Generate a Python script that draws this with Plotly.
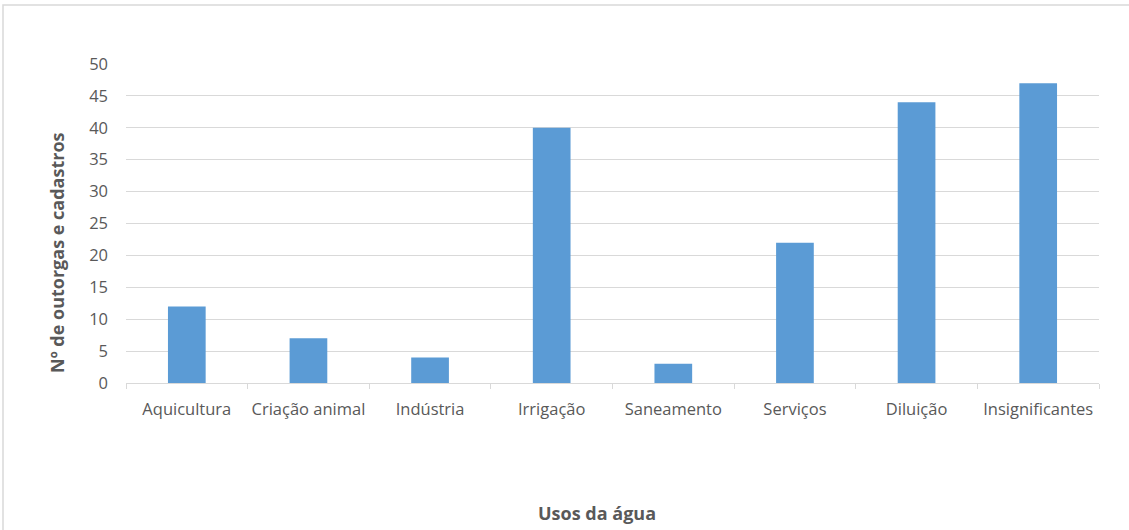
import plotly.graph_objects as go

# Water-use categories and the count of permits/registrations for each
categorias = ["Aquicultura", "Criação animal", "Indústria", "Irrigação",
              "Saneamento", "Serviços", "Diluição", "Insignificantes"]
quantidades = [12, 7, 4, 40, 3, 22, 44, 47]
y_ticks = [0, 5, 10, 15, 20, 25, 30, 35, 40, 45, 50]

W, H = 1129, 530
L, R, T, B = 126, 30, 64, 147
pw, ph = W - L - R, H - T - B

FONT = "'Open Sans', Lato, sans-serif"
GRAY = "#595959"

fig = go.Figure(go.Bar(
    x=categorias, y=quantidades,
    marker=dict(color="#5B9BD5", line=dict(width=0)),
    hoverinfo="x+y",
))

fig.update_layout(
    width=W, height=H,
    margin=dict(l=L, r=R, t=T, b=B, pad=0),
    paper_bgcolor="white", plot_bgcolor="white",
    bargap=0.69,
    showlegend=False,
    font=dict(family=FONT, size=14, color=GRAY),
    xaxis=dict(
        type="category",
        automargin=False,
        tickangle=0,
        showgrid=False,
        showline=True, linecolor="#D9D9D9", linewidth=1,
        ticks="outside", tickson="boundaries", ticklen=5,
        tickcolor="#D9D9D9",
        ticklabelstandoff=11,
        tickfont=dict(family=FONT, size=16.5, color=GRAY),
        zeroline=False,
    ),
    yaxis=dict(
        automargin=False,
        range=[0, 50],
        tickvals=y_ticks,
        showgrid=True, gridcolor="#D9D9D9", gridwidth=1,
        zeroline=False, showline=False,
        ticks="", ticklabelstandoff=17,
        tickfont=dict(family=FONT, size=16.5, color=GRAY),
    ),
    annotations=[
        dict(text="<b>Nº de outorgas e cadastros</b>", xref="paper", yref="paper",
             x=(57 - L) / pw, y=1 - (253 - T) / ph, textangle=-90,
             showarrow=False, xanchor="center", yanchor="middle",
             font=dict(family=FONT, size=18, color=GRAY)),
        dict(text="<b>Usos da água</b>", xref="paper", yref="paper",
             x=(597 - L) / pw, y=1 - (513 - T) / ph,
             showarrow=False, xanchor="center", yanchor="middle",
             font=dict(family=FONT, size=18, color=GRAY)),
    ],
    shapes=[
        dict(type="rect", xref="paper", yref="paper",
             x0=(3 - L) / pw, x1=(W + 5 - L) / pw,
             y0=1 - (H + 5 - T) / ph, y1=1 + (T - 5) / ph,
             line=dict(color="#D9D9D9", width=1.5), layer="below"),
    ],
)

fig.write_html("out.html")
